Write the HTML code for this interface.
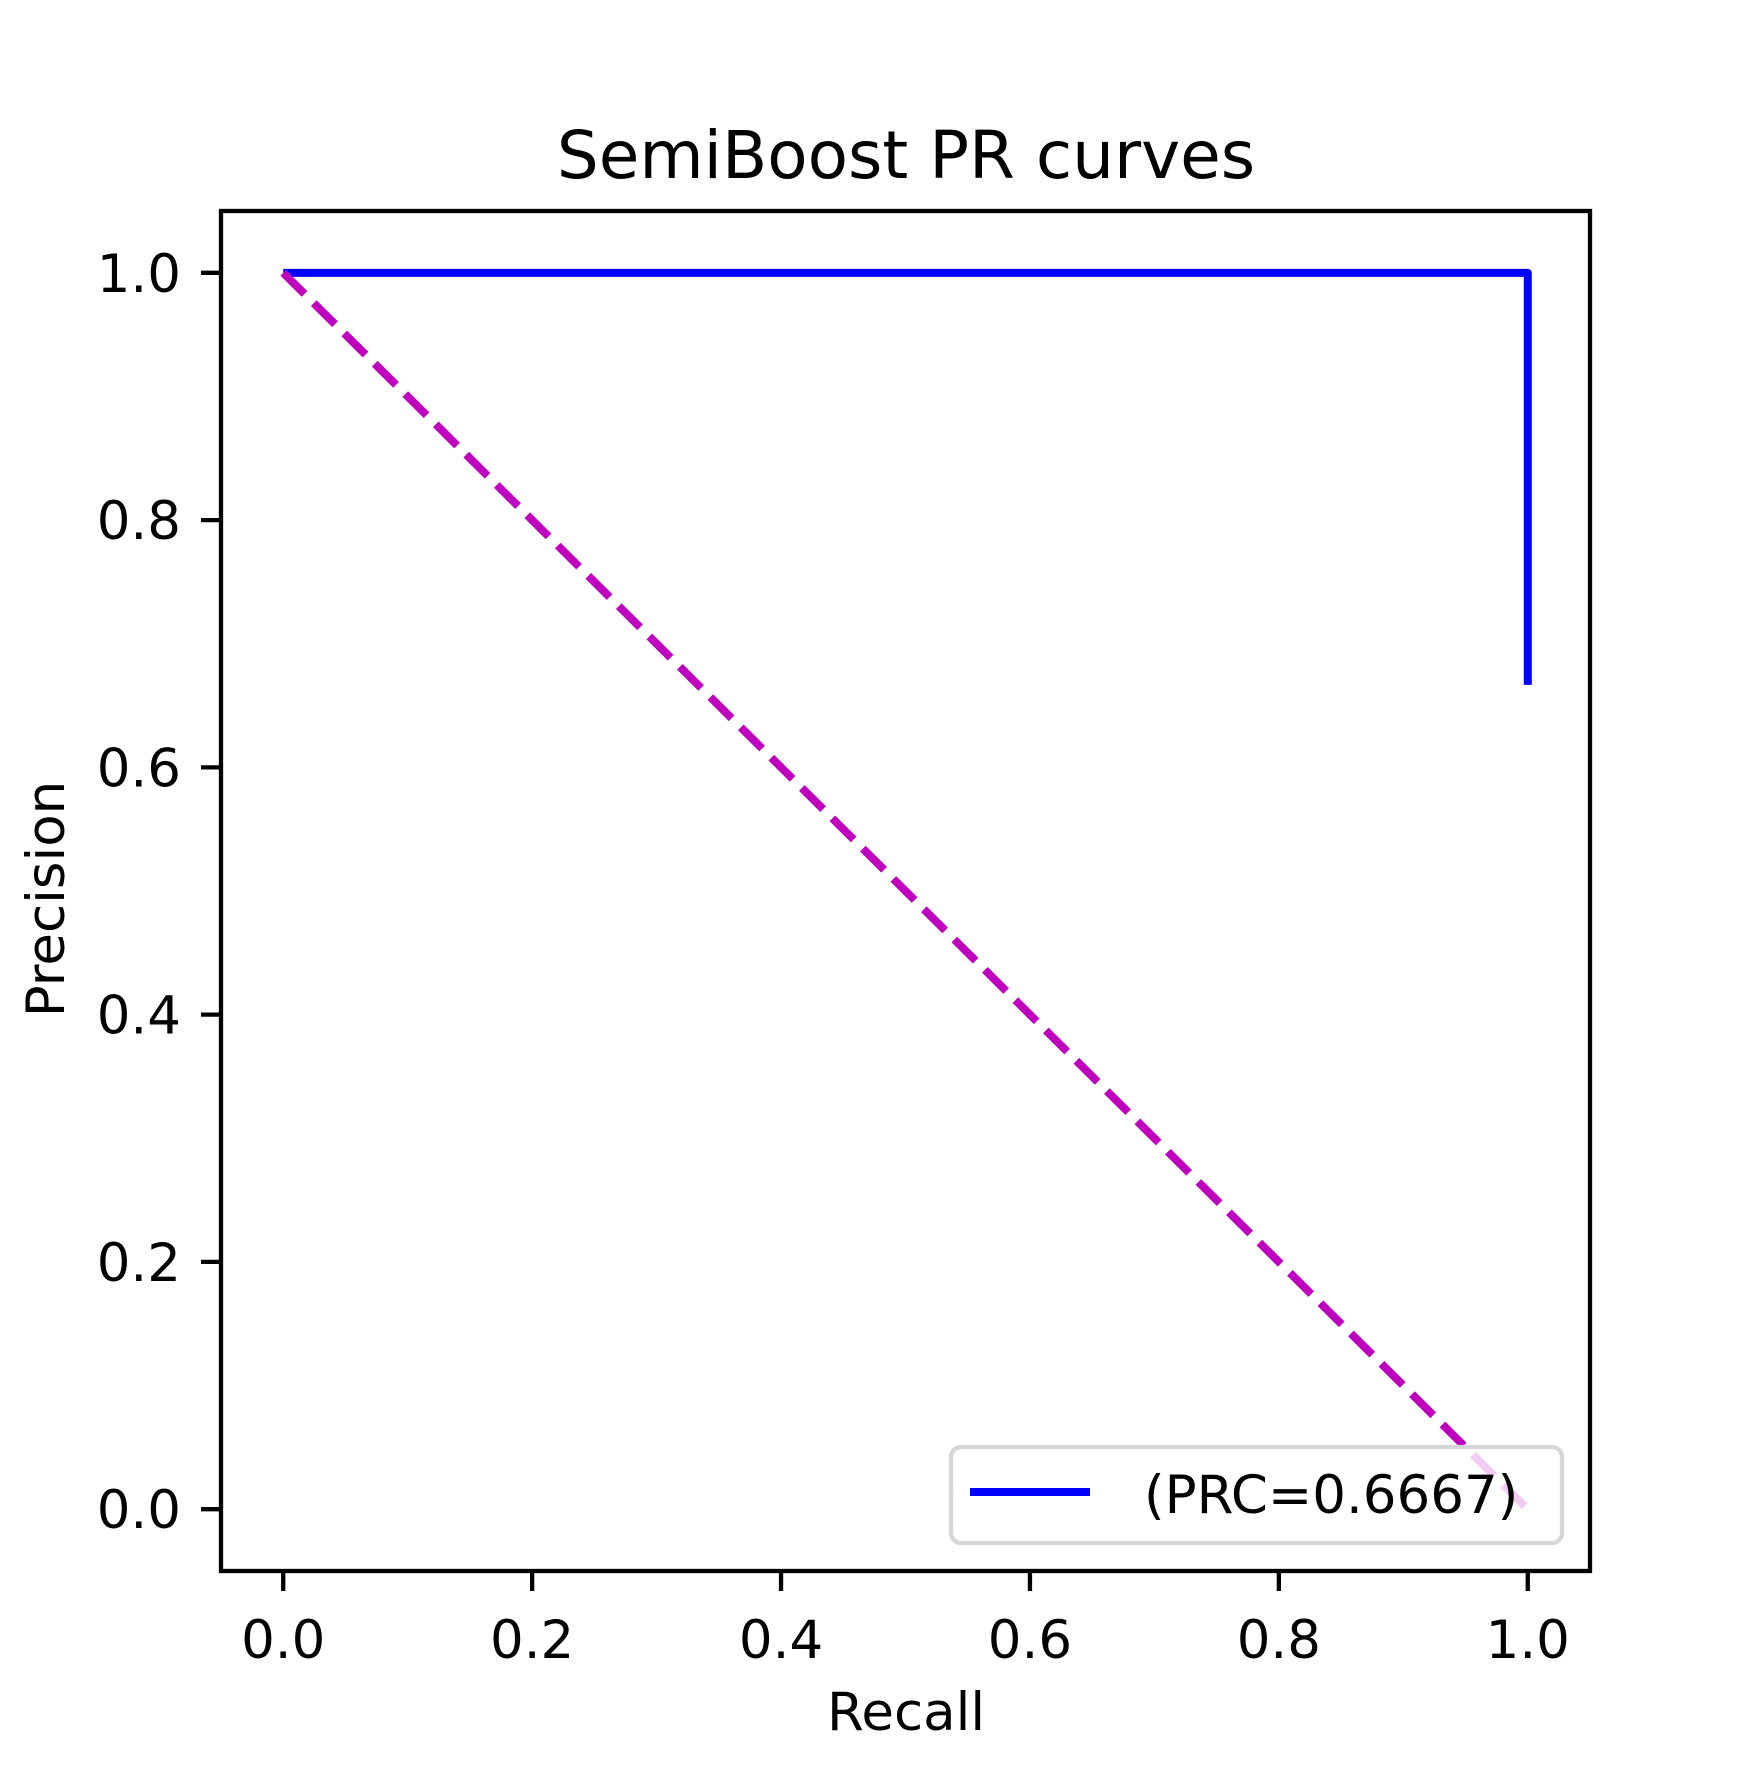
<!DOCTYPE html>
<html><head><meta charset="utf-8"><style>
html,body{margin:0;padding:0;background:#fff;}
svg text{font-family:"DejaVu Sans","Liberation Sans",sans-serif;fill:#000;}
</style></head><body>
<svg id="chart" width="1760" height="1760" viewBox="0 0 1760 1760" xmlns="http://www.w3.org/2000/svg">
<rect width="1760" height="1760" fill="#fff"/>
<text x="906" y="178" font-size="66" text-anchor="middle">SemiBoost PR curves</text>
<g id="plot"></g>
<text x="906" y="1730" font-size="53" text-anchor="middle">Recall</text>
<text transform="translate(64,899) rotate(-90)" font-size="53" text-anchor="middle">Precision</text>
</svg>
<script>
const recall = [0, 1, 1];
const precision = [1, 1, 0.6667];
const chanceX = [0, 1];
const chanceY = [1, 0];
const xTicks = [0, 0.2, 0.4, 0.6, 0.8, 1.0];
const yTicks = [0, 0.2, 0.4, 0.6, 0.8, 1.0];
const legendLabel = "(PRC=0.6667)";

const L=221,R=1590,T=211,B=1571,xmin=-0.05,xmax=1.05,ymin=-0.05,ymax=1.05;
const sx=v=>L+(v-xmin)/(xmax-xmin)*(R-L);
const sy=v=>B-(v-ymin)/(ymax-ymin)*(B-T);
const NS="http://www.w3.org/2000/svg";
const g=document.getElementById('plot');
function mk(tag,attrs,parent){const e=document.createElementNS(NS,tag);for(const k in attrs)e.setAttribute(k,attrs[k]);(parent||g).appendChild(e);return e;}

const blue=mk('polyline',{points:recall.map((r,i)=>sx(r)+','+sy(precision[i])).join(' '),fill:'none',stroke:'#0000ff','stroke-width':8,'stroke-linejoin':'round','stroke-linecap':'butt'});


const mag=mk('polyline',{points:chanceX.map((r,i)=>sx(r)+','+sy(chanceY[i])).join(' '),fill:'none',stroke:'#bf00bf','stroke-width':8,'stroke-dasharray':'30 13'});



const frame=mk('rect',{x:L,y:T,width:R-L,height:B-T,fill:'none',stroke:'#000','stroke-width':4.3});



xTicks.forEach(v=>{
  const t=mk('line',{x1:sx(v),x2:sx(v),y1:B,y2:B+20,stroke:'#000','stroke-width':4.3});
  
  
  const l=mk('text',{x:sx(v),y:1658,'font-size':53,'text-anchor':'middle'});
  l.textContent=v.toFixed(1);
  
  
});
yTicks.forEach(v=>{
  const t=mk('line',{x1:L-20,x2:L,y1:sy(v),y2:sy(v),stroke:'#000','stroke-width':4.3});
  
  
  const l=mk('text',{x:181,y:sy(v)+19,'font-size':53,'text-anchor':'end'});
  l.textContent=v.toFixed(1);
  
  
});

const lg=mk('g',{});


const box=mk('rect',{x:951,y:1447,width:611,height:96,rx:10,fill:'#fff','fill-opacity':0.8,stroke:'#d6d6d6','stroke-width':4.3},lg);


const ll=mk('line',{x1:970,x2:1090,y1:1492,y2:1492,stroke:'#0000ff','stroke-width':8},lg);


const lt=mk('text',{x:1144,y:1513,'font-size':53},lg);
lt.textContent=legendLabel;


</script>
</body></html>
